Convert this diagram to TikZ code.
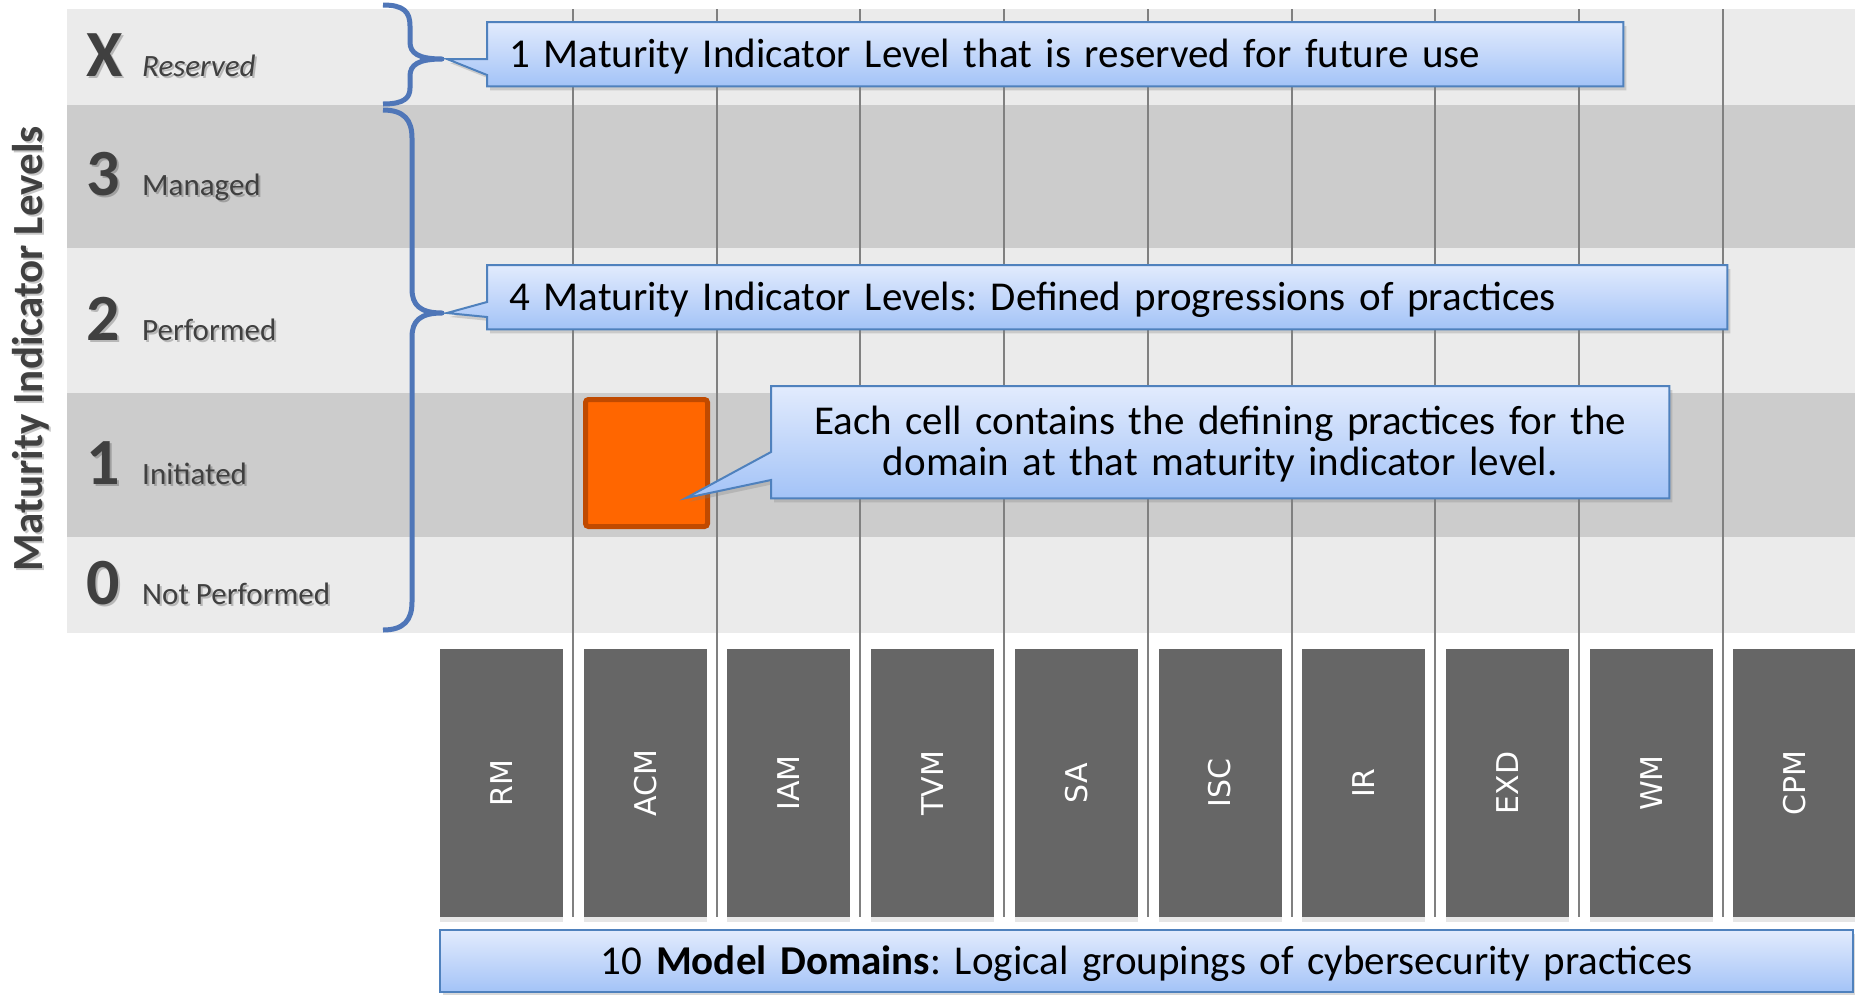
\documentclass[tikz,border=0pt]{standalone}
\usepackage{fontspec}
\setmainfont{Carlito}
\newfontfamily\domfont{DejaVu Sans}
\usetikzlibrary{calc,shadows}
\definecolor{bandlt}{HTML}{EBEBEB}
\definecolor{banddk}{HTML}{CCCCCC}
\definecolor{gridc}{HTML}{808080}
\definecolor{domc}{HTML}{666666}
\definecolor{bracec}{HTML}{4F76B8}
\definecolor{callc}{HTML}{4F81BD}
\definecolor{calltop}{HTML}{E2EBFD}
\definecolor{callbot}{HTML}{A3C3F7}
\definecolor{levc}{HTML}{404040}
\definecolor{cellc}{HTML}{FF6600}
\definecolor{celledge}{HTML}{C04A00}
\newcommand\callfont{\fontsize{41}{41}\selectfont\frenchspacing}
\pgfdeclarelayer{back}
\pgfdeclarelayer{mid}
\pgfsetlayers{back,mid,main}

\begin{document}
\begin{tikzpicture}[x=1pt, y=-1pt]
  \tikzset{
    big/.style={font=\fontsize{66}{66}\selectfont\bfseries, text=levc, anchor=base west, inner sep=0},
    lvl/.style={font=\fontsize{31}{36}\selectfont, text=levc, anchor=base west, inner sep=0},
    shd/.style={text=black, opacity=0.22},
    ctext/.style={font=\callfont, anchor=north west, inner xsep=22pt, inner ysep=0pt,
      text height=26pt, text depth=0pt},
    cbody/.style={draw=callc, line width=2pt, top color=calltop, bottom color=callbot,
      drop shadow={shadow xshift=3pt, shadow yshift=-4pt, opacity=0.3}},
    dom/.style={fill=domc, minimum width=123pt, minimum height=268pt, inner sep=0,
      drop shadow={shadow xshift=0pt, shadow yshift=-5pt, opacity=0.2}},
    domlab/.style={rotate=90, text=white, font=\domfont\fontsize{30}{30}\selectfont},
    brace/.style={draw=bracec, line width=5pt, line join=round}
  }
  \useasboundingbox (0,0) rectangle (1855,994);

  \begin{pgfonlayer}{back}
  % level bands
  \fill[bandlt] (67,9) rectangle (1855,105);
  \fill[banddk] (67,105) rectangle (1855,248);
  \fill[bandlt] (67,248) rectangle (1855,393);
  \fill[banddk] (67,393) rectangle (1855,537);
  \fill[bandlt] (67,537) rectangle (1855,633);
  % column lines
  \foreach \i in {0,...,8} { \draw[gridc, line width=2pt] ({573+143.7*\i},9) -- ({573+143.7*\i},917); }

  % braces
  \draw[brace] (383,5) .. controls (404,5) and (410,12) .. (410,26) -- (410,42)
    .. controls (410,53) and (418,59) .. (442,59) .. controls (418,59) and (410,65) .. (410,76)
    -- (410,88) .. controls (410,98) and (404,104) .. (383,104);
  \draw[brace] (383,110) .. controls (404,110) and (412,120) .. (412,138) -- (412,289)
    .. controls (412,305) and (420,313) .. (442,313) .. controls (420,313) and (412,321) .. (412,337)
    -- (412,602) .. controls (412,620) and (404,630) .. (383,630);

  % one cell
  \node[draw=celledge, fill=cellc, line width=5pt, rounded corners=3pt,
    minimum width=122pt, minimum height=127pt] (cell) at (646.5,463) {};

  % domains
  \foreach \d [count=\i from 0] in {RM,ACM,IAM,TVM,SA,ISC,IR,EXD,WM,CPM} {
    \node[dom] (d\d) at ({501.5+143.7*\i},783) {};
    \node[domlab] at (d\d) {\d};
  }

  % text shadows
  \node[rotate=90, anchor=base, shd, font=\fontsize{43}{43}\selectfont\bfseries] (ttls) at (44,351) {Maturity Indicator Levels};
  \node[big, shd] (sX) at (88,78) {X};
  \node[lvl, shd] (tX) at (144,78) {\itshape Reserved};
  \foreach \n/\w/\y in {3/Managed/195, 2/Performed/340, 1/Initiated/484, 0/Not Performed/604} {
    \node[big, shd] (s\n) at (88,\y+2) {\n};
    \node[lvl, shd] (t\n) at (144,\y+2) {\w};
  }
  \end{pgfonlayer}

  % axis title and level names
  \node[rotate=90, anchor=base, text=levc, font=\fontsize{43}{43}\selectfont\bfseries] (ttl) at (42,349) {Maturity Indicator Levels};
  \node[big] (lvX) at (86,76) {X};
  \node[lvl] (nX) at (142,76) {\itshape Reserved};
  \foreach \n/\w/\y in {3/Managed/195, 2/Performed/340, 1/Initiated/484, 0/Not Performed/604} {
    \node[big] (lv\n) at (86,\y) {\n};
    \node[lvl] (n\n) at (142,\y) {\w};
  }

  % callouts
  \coordinate (t1) at (447,59);
  \coordinate (t2) at (447,313);
  \coordinate (t3) at (686,498);
  \node[ctext, text width=1092pt, minimum height=64pt, align=left] (c1) at (487,22)
    {1 Maturity Indicator Level that is reserved for future use};
  \node[ctext, text width=1196pt, minimum height=64pt, align=left] (c2) at (487,265)
    {4 Maturity Indicator Levels: Defined progressions of practices};
  \node[ctext, text width=854pt, minimum height=112pt, align=center, text depth=41pt] (c3) at (771,386)
    {Each cell contains the defining practices for the\\domain at that maturity indicator level.};
  \node[ctext, text width=1369pt, minimum height=62pt, align=center] (c4) at (440,930)
    {10 \textbf{Model Domains}: Logical groupings of cybersecurity practices};

  \begin{pgfonlayer}{mid}
  \path[cbody] (c1.north west) -- (c1.north east) -- (c1.south east) -- (c1.south west)
    -- ($(c1.north west)+(0,53)$) -- (t1) -- ($(c1.north west)+(0,37)$) -- cycle;
  \path[cbody] (c2.north west) -- (c2.north east) -- (c2.south east) -- (c2.south west)
    -- ($(c2.north west)+(0,52)$) -- (t2) -- ($(c2.north west)+(0,37)$) -- cycle;
  \path[cbody] (c3.north west) -- (c3.north east) -- (c3.south east) -- (c3.south west)
    -- ($(c3.north west)+(0,94)$) -- (t3) -- ($(c3.north west)+(0,66)$) -- cycle;
  \path[cbody] (c4.north west) rectangle (c4.south east);
  \end{pgfonlayer}
\end{tikzpicture}
\end{document}
